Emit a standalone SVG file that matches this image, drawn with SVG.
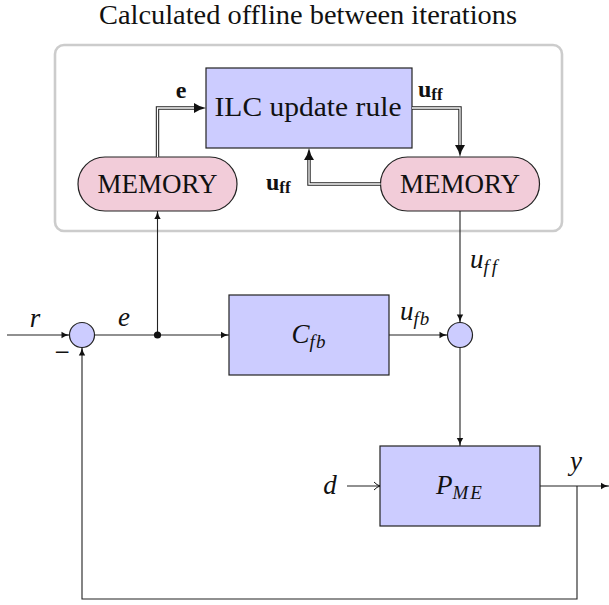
<svg xmlns="http://www.w3.org/2000/svg" width="609" height="605" viewBox="0 0 609 605" font-family="'Liberation Serif', 'Times New Roman', serif">
  <style>
    text { font-family: 'Liberation Serif', 'Times New Roman', serif; fill: #111; }
    .rm { font-size: 27px; }
    .m { font-size: 27px; font-style: italic; }
    .sub { font-size: 19px; font-style: italic; }
    .bf { font-size: 24px; font-weight: bold; }
    .bfs { font-size: 17px; font-weight: bold; }
    .blk { fill: #ccccff; stroke: #222; stroke-width: 1.2; }
    .mem { fill: #f2ccd9; stroke: #222; stroke-width: 1.2; }
    .sum { fill: #ccccff; stroke: #222; stroke-width: 1.2; }
    .wire { fill: none; stroke: #222; stroke-width: 1.1; }
    .dbl-out { fill: none; stroke: #222; stroke-width: 3.4; stroke-linejoin: miter; }
    .dbl-in { fill: none; stroke: #fff; stroke-width: 1.3; stroke-linejoin: miter; }
  </style>
  <defs>
    <marker id="tip" markerUnits="userSpaceOnUse" markerWidth="10" markerHeight="8" refX="8" refY="4" orient="auto" overflow="visible">
      <path d="M0,0.8 Q3,3 8,4 Q3,5 0,7.2 Z" fill="#111"/>
    </marker>
    <marker id="bigtip" markerUnits="userSpaceOnUse" markerWidth="14" markerHeight="12" refX="0" refY="5" orient="auto" overflow="visible">
      <path d="M0,0 Q5,3.6 12,5 Q5,6.4 0,10 Z" fill="#111"/>
    </marker>
    <marker id="to" markerUnits="userSpaceOnUse" markerWidth="10" markerHeight="10" refX="7" refY="5" orient="auto" overflow="visible">
      <path d="M1,1 Q4,4.2 7,5 Q4,5.8 1,9" fill="none" stroke="#111" stroke-width="1"/>
    </marker>
  </defs>

  <!-- offline computation frame -->
  <text class="rm" x="308" y="24" font-size="26" text-anchor="middle" textLength="418" lengthAdjust="spacingAndGlyphs">Calculated offline between iterations</text>
  <rect x="55" y="45" width="507" height="186" rx="9" fill="none" stroke="#cccccc" stroke-width="2.6"/>

  <g id="ilc-update">
    <rect class="blk" x="206" y="68" width="206" height="80"/>
    <text class="rm" x="308" y="116" text-anchor="middle" textLength="187" lengthAdjust="spacingAndGlyphs">ILC update rule</text>
  </g>

  <g id="memory-error">
    <rect class="mem" x="78" y="157" width="159" height="54" rx="27"/>
    <text class="rm" x="157.5" y="193" text-anchor="middle" textLength="120" lengthAdjust="spacingAndGlyphs">MEMORY</text>
  </g>

  <g id="memory-ff">
    <rect class="mem" x="380.5" y="157" width="159" height="54" rx="27"/>
    <text class="rm" x="460" y="193" text-anchor="middle" textLength="120" lengthAdjust="spacingAndGlyphs">MEMORY</text>
  </g>

  <g id="controller">
    <rect class="blk" x="229" y="295" width="160" height="80"/>
    <text class="m" x="309" y="343" text-anchor="middle">C<tspan class="sub" dy="5" letter-spacing="1">fb</tspan></text>
  </g>

  <g id="plant">
    <rect class="blk" x="380" y="446" width="160" height="80"/>
    <text class="m" x="460" y="494" text-anchor="middle">P<tspan class="sub" dy="5" letter-spacing="2">ME</tspan></text>
  </g>

  <g id="sum-error">
    <circle class="sum" cx="82" cy="335" r="12.5"/>
  </g>

  <g id="sum-input">
    <circle class="sum" cx="460" cy="335" r="12.5"/>
  </g>

  <g id="connectors">
    <!-- stored data paths (double lines) -->
    <path class="dbl-out" d="M157.5,157 V108 H194" marker-end="url(#bigtip)"/>
    <path class="dbl-in" d="M157.5,157 V108 H194"/>
    <path class="dbl-out" d="M412,108 H460 V145" marker-end="url(#bigtip)"/>
    <path class="dbl-in" d="M412,108 H460 V145"/>
    <path class="dbl-out" d="M380.5,184 H309 V160" marker-end="url(#bigtip)"/>
    <path class="dbl-in" d="M380.5,184 H309 V160"/>

    <!-- real-time loop -->
    <path class="wire" d="M7,335 H69.5" marker-end="url(#tip)"/>
    <path class="wire" d="M94.5,335 H229" marker-end="url(#tip)"/>
    <path class="wire" d="M157.5,335 V211" marker-end="url(#tip)"/>
    <path class="wire" d="M389,335 H447.5" marker-end="url(#tip)"/>
    <path class="wire" d="M460,211 V322.5" marker-end="url(#tip)"/>
    <path class="wire" d="M460,347.5 V446" marker-end="url(#tip)"/>
    <path class="wire" d="M347,486 H380" marker-end="url(#to)"/>
    <path class="wire" d="M540,486 H609" marker-end="url(#tip)"/>
    <path class="wire" d="M577,486 V599 H82 V347.5" marker-end="url(#tip)"/>
    <circle cx="157.5" cy="335" r="3.6" fill="#111"/>
  </g>

  <!-- signal labels -->
  <text class="bf" x="181" y="98" text-anchor="middle">e</text>
  <text class="bf" x="418" y="97">u<tspan class="bfs" dy="3">ff</tspan></text>
  <text class="bf" x="266" y="190">u<tspan class="bfs" dy="3">ff</tspan></text>
  <text class="m" x="35" y="327" text-anchor="middle">r</text>
  <text class="m" x="124" y="326" text-anchor="middle">e</text>
  <text class="rm" x="62" y="361" text-anchor="middle">−</text>
  <text class="m" x="400" y="320">u<tspan class="sub" dy="5" letter-spacing="1">fb</tspan></text>
  <text class="m" x="470" y="268">u<tspan class="sub" dy="5" letter-spacing="3">ff</tspan></text>
  <text class="m" x="330" y="494" text-anchor="middle">d</text>
  <text class="m" x="576" y="470" text-anchor="middle">y</text>
</svg>
